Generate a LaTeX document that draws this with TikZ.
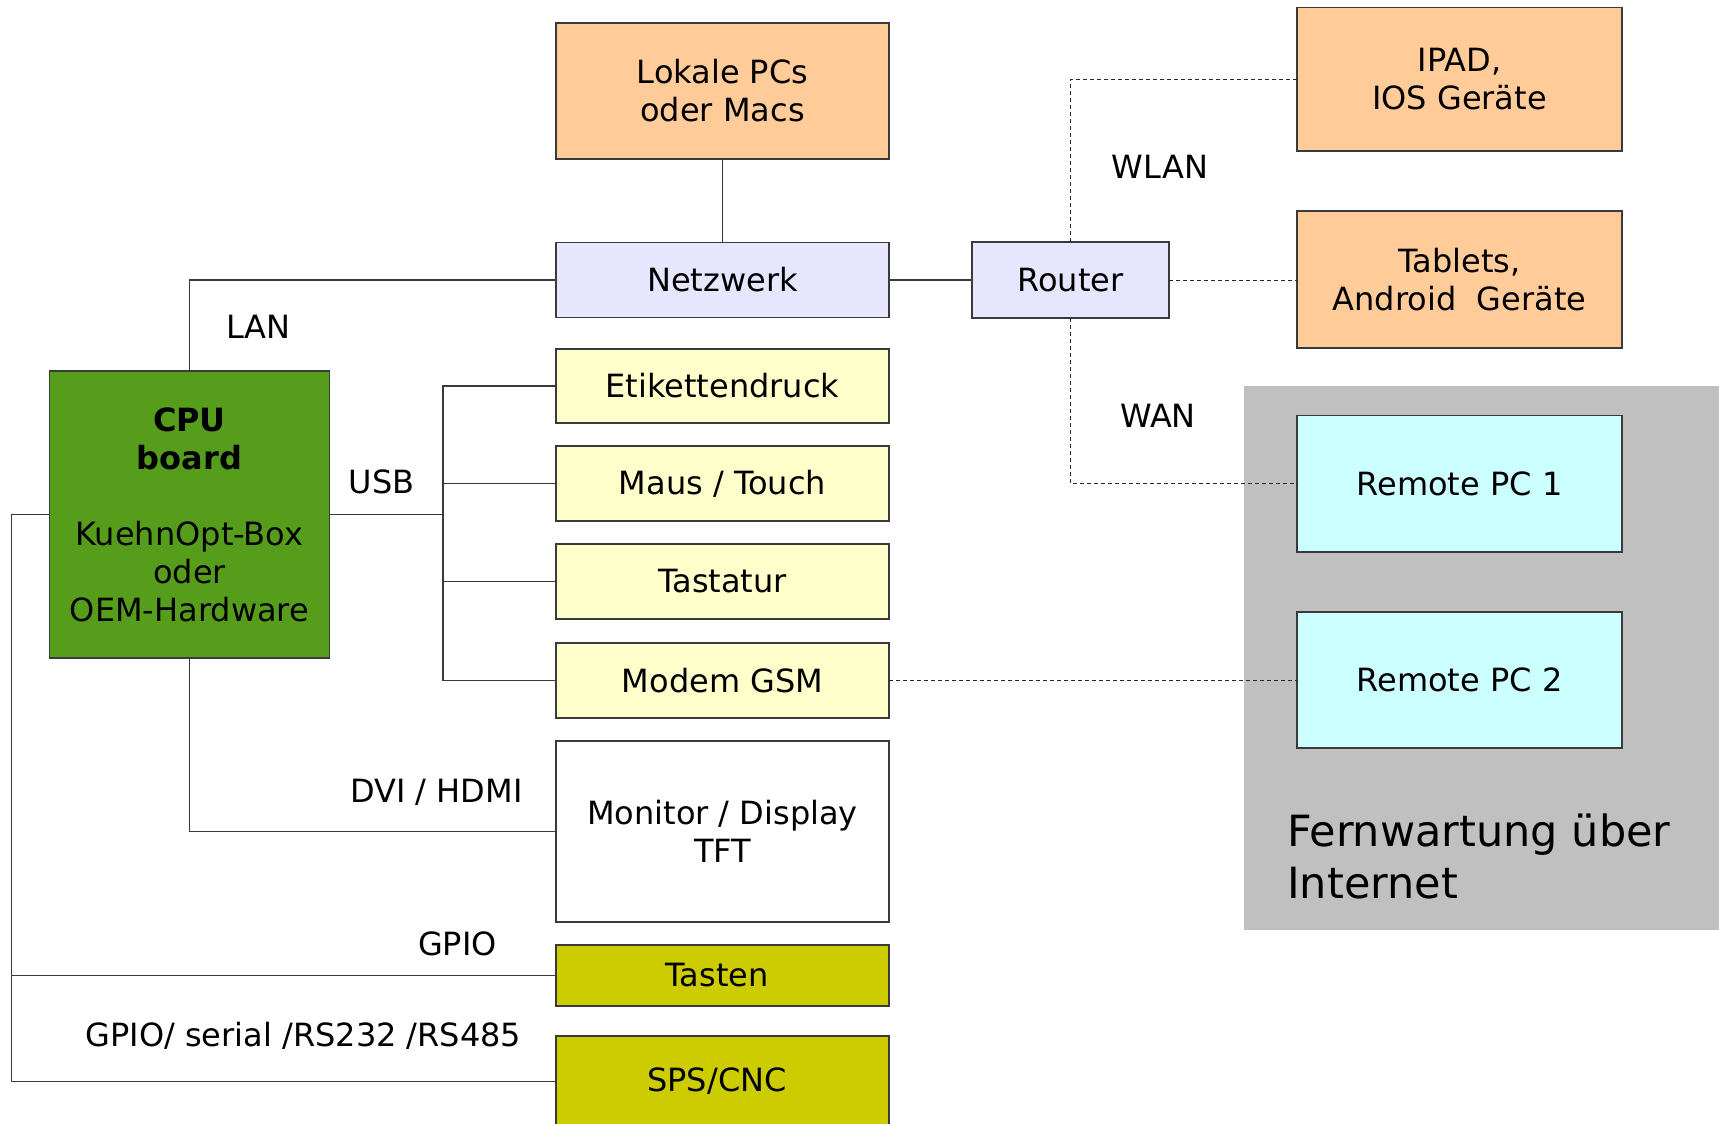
\documentclass[tikz,border=0pt]{standalone}
\usepackage{fontspec}
\setmainfont{DejaVu Sans}
\definecolor{cOrange}{HTML}{FFCC99}
\definecolor{cLav}{HTML}{E6E6FF}
\definecolor{cYel}{HTML}{FFFFCC}
\definecolor{cGreen}{HTML}{579D1C}
\definecolor{cOlive}{HTML}{CCCC00}
\definecolor{cCyan}{HTML}{CCFFFF}
\definecolor{cGray}{HTML}{C0C0C0}
\definecolor{cLine}{HTML}{3A3A3A}
\begin{document}
\begin{tikzpicture}[x=1pt,y=-1pt,
  box/.style={draw=cLine, line width=1.3pt, inner sep=0pt, outer sep=0pt,
    font=\fontsize{32}{38}\selectfont},
  sz/.style 2 args={minimum width=#1pt, minimum height=#2pt},
  conn/.style={draw=cLine, line width=1.2pt},
  wl/.style={draw=black!85, line width=1pt, dash pattern=on 4pt off 3pt},
  lbl/.style={font=\fontsize{32}{38}\selectfont, inner sep=0pt, anchor=base}
]
\useasboundingbox (0,0) rectangle (1719,1124);
\clip (0,0) rectangle (1719,1124);
\fill[white] (0,0) rectangle (1719,1124);

% grey remote-maintenance area
\fill[cGray] (1244,386) rectangle (1725,930);
\node[inner sep=0pt, anchor=base west, align=left,
      font=\fontsize{43}{52}\selectfont] (fern) at (1287,898)
      {Fernwartung über\\Internet};

% boxes
\node[box, sz={333}{136}, fill=cOrange, align=center] (lok) at (722.5,91) {Lokale PCs\\oder Macs};
\node[box, sz={333}{75}, fill=cLav] (netz) at (722.5,280) {Netzwerk};
\node[box, sz={197}{76}, fill=cLav] (router) at (1070.5,280) {Router};
\node[box, sz={325}{143.5}, fill=cOrange, align=center] (ipad) at (1459.5,79.25) {IPAD,\\IOS Geräte};
\node[box, sz={325}{137}, fill=cOrange, align=center] (tab) at (1459.5,279.5) {Tablets,\\Android\ \ Geräte};
\node[box, sz={280}{287}, fill=cGreen, align=center] (cpu) at (189.5,514.5)
  {\textbf{CPU}\\\textbf{board}\\[38pt]KuehnOpt-Box\\oder\\OEM-Hardware};
\node[box, sz={333}{74}, fill=cYel] (etik) at (722.5,386) {Etikettendruck};
\node[box, sz={333}{75}, fill=cYel] (maus) at (722.5,483.5) {Maus / Touch};
\node[box, sz={333}{75}, fill=cYel] (tast) at (722.5,581.5) {Tastatur};
\node[box, sz={333}{75}, fill=cYel] (modem) at (722.5,680.5) {Modem GSM};
\node[box, sz={333}{181}, fill=white, align=center] (mon) at (722.5,831.5) {Monitor / Display\\TFT};
\node[box, sz={333}{61}, fill=cOlive] (tasten) at (722.5,975.5) {Tasten\rule{11pt}{0pt}};
\node[box, sz={333}{91}, fill=cOlive] (sps) at (722.5,1081.5) {SPS/CNC\rule{11pt}{0pt}};
\node[box, sz={325}{136.5}, fill=cCyan] (r1) at (1459.5,483.75) {Remote PC 1};
\node[box, sz={325}{136}, fill=cCyan] (r2) at (1459.5,680) {Remote PC 2};

% coordinates
\coordinate (bus) at (443,514.5);
\coordinate (lx) at (11.7,514.5);

% solid connectors
\draw[conn] (lok.south) -- (netz.north);
\draw[conn] (netz.east) -- (router.west);
\draw[conn] (cpu.north) |- (netz.west);
\draw[conn] (cpu.east) -- (bus);
\draw[conn] (bus) |- (etik.west);
\draw[conn] (bus) |- (maus.west);
\draw[conn] (bus) |- (tast.west);
\draw[conn] (bus) |- (modem.west);
\draw[conn] (cpu.south) |- (mon.west);
\draw[conn] (cpu.west) -- (lx) |- (sps.west);
\draw[conn] (lx |- tasten.west) -- (tasten.west);
% dashed connectors
\draw[wl] (router.north) |- (ipad.west);
\draw[wl] (router.east) -- (router.east -| tab.west);
\draw[wl] (router.south) |- (r1.west);
\draw[wl] (modem.east) -- (modem.east -| r2.west);

% labels
\node[lbl] (lan) at (258.5,338) {LAN};
\node[lbl] (usb) at (381.5,493) {USB};
\node[lbl] (wlan) at (1160,178) {WLAN};
\node[lbl] (wan) at (1158,427.5) {WAN};
\node[lbl] (dvi) at (436.5,802) {DVI / HDMI};
\node[lbl] (gpio) at (457.4,955) {GPIO};
\node[lbl] (gpio2) at (303.5,1046.7) {GPIO/ serial /RS232 /RS485};
\end{tikzpicture}
\end{document}
